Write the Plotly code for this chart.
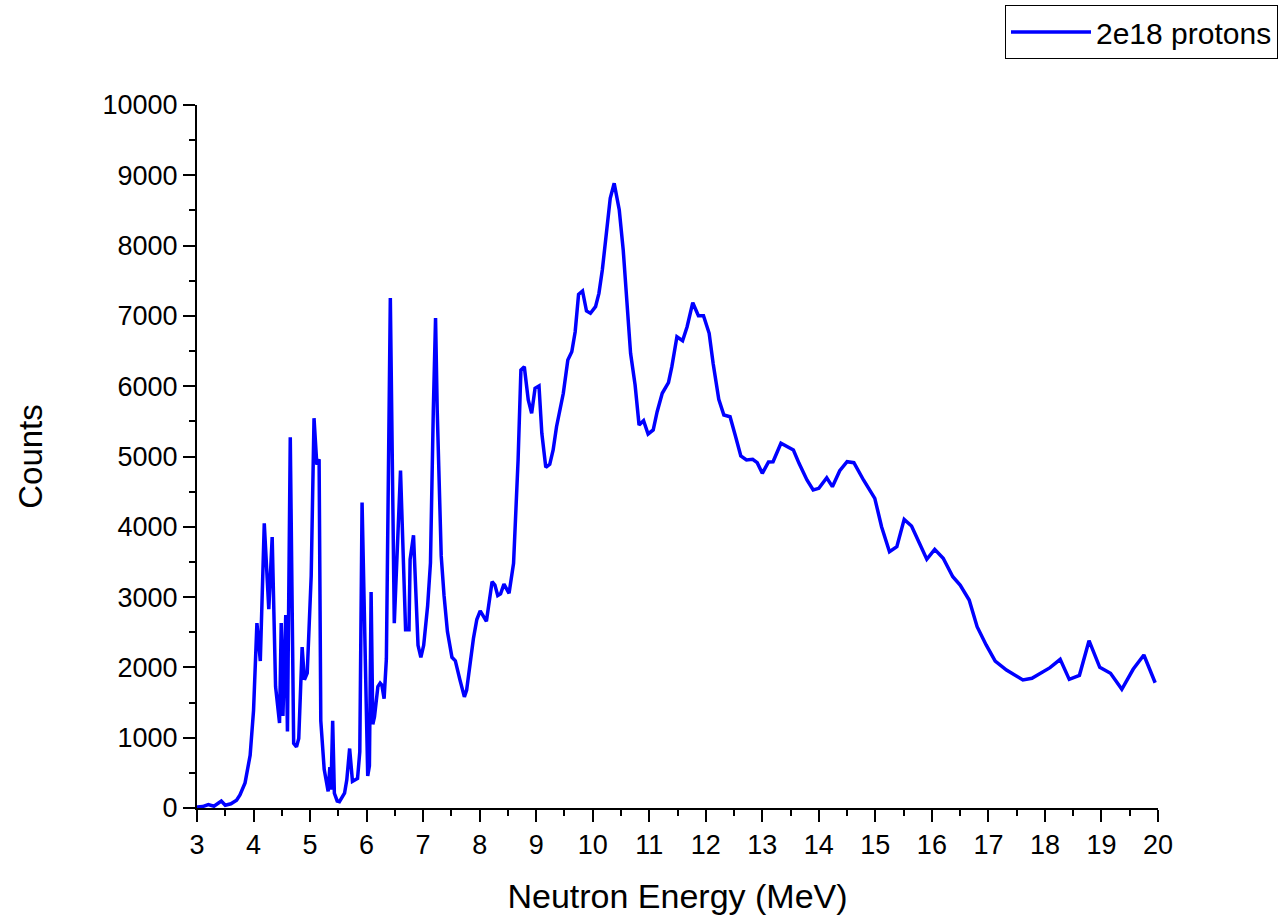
import plotly.graph_objects as go

energy_mev = [
    3.0, 3.1, 3.2, 3.3, 3.43, 3.5, 3.6, 3.7, 3.76, 3.85, 3.94, 4.0, 4.06, 4.12, 4.19,
    4.27, 4.33, 4.39, 4.46, 4.49, 4.52, 4.57, 4.6, 4.65, 4.71, 4.76, 4.8, 4.86, 4.9,
    4.95, 5.02, 5.07, 5.12, 5.16, 5.19, 5.25, 5.32, 5.35, 5.37, 5.4, 5.43, 5.48, 5.52,
    5.61, 5.65, 5.7, 5.75, 5.84, 5.88, 5.92, 6.02, 6.05, 6.08, 6.11, 6.14, 6.2, 6.24,
    6.27, 6.31, 6.35, 6.42, 6.49, 6.6, 6.69, 6.75, 6.77, 6.83, 6.91, 6.96, 7.01, 7.08,
    7.13, 7.18, 7.22, 7.25, 7.32, 7.37, 7.43, 7.51, 7.57, 7.65, 7.73, 7.77, 7.83, 7.89,
    7.95, 8.01, 8.12, 8.22, 8.27, 8.32, 8.37, 8.43, 8.52, 8.6, 8.68, 8.73, 8.79, 8.86,
    8.92, 8.98, 9.05, 9.1, 9.17, 9.24, 9.3, 9.36, 9.48, 9.56, 9.63, 9.69, 9.75, 9.82,
    9.89, 9.96, 10.05, 10.11, 10.17, 10.23, 10.31, 10.38, 10.47, 10.54, 10.6, 10.67,
    10.75, 10.82, 10.9, 10.98, 11.07, 11.14, 11.23, 11.34, 11.4, 11.49, 11.59, 11.67,
    11.77, 11.87, 11.96, 12.06, 12.13, 12.23, 12.32, 12.43, 12.52, 12.62, 12.72, 12.83,
    12.91, 13.0, 13.11, 13.19, 13.33, 13.43, 13.55, 13.65, 13.79, 13.9, 14.0, 14.14,
    14.24, 14.37, 14.5, 14.62, 14.79, 14.99, 15.11, 15.25, 15.38, 15.51, 15.64, 15.78,
    15.91, 16.05, 16.2, 16.37, 16.5, 16.66, 16.8, 16.96, 17.12, 17.32, 17.61, 17.77,
    17.91, 18.09, 18.27, 18.43, 18.61, 18.78, 18.97, 19.16, 19.36, 19.56, 19.75, 19.95,
]

counts = [
    15, 20, 50, 25, 100, 40, 60, 110, 185, 357, 750, 1385, 2630, 2090, 4050,
    2830, 3855, 1725, 1210, 2630, 1310, 2745, 1090, 5275, 920, 870, 990, 2290, 1825,
    1920, 3300, 5545, 4885, 4960, 1240, 550, 235, 580, 260, 1240, 210, 100, 90,
    210, 400, 846, 380, 420, 800, 4344, 455, 600, 3072, 1190, 1300, 1727, 1776,
    1750, 1556, 2120, 7255, 2630, 4800, 2535, 2535, 3537, 3880, 2314, 2143, 2314, 2877,
    3488, 5640, 6971, 5640, 3586, 3023, 2510, 2143, 2094, 1825, 1580, 1678, 2070, 2412,
    2681, 2803, 2656, 3219, 3170, 3023, 3048, 3185, 3054, 3480, 4950, 6230, 6277, 5804,
    5614, 5970, 6003, 5330, 4846, 4889, 5092, 5424, 5899, 6373, 6491, 6775, 7306, 7354,
    7070, 7037, 7131, 7321, 7653, 8127, 8672, 8886, 8506, 7937, 7226, 6468,
    6017, 5448, 5510, 5320, 5377, 5637, 5899, 6050, 6278, 6704, 6647, 6846,
    7188, 7003, 7003, 6752, 6325, 5814, 5590, 5566, 5306, 5007, 4950, 4960,
    4912, 4760, 4922, 4926, 5188, 5150, 5092, 4903, 4666, 4523, 4547, 4698,
    4571, 4798, 4926, 4912, 4666, 4405, 4001, 3646, 3717, 4106, 4011, 3765,
    3538, 3680, 3552, 3290, 3172, 2959, 2579, 2319, 2091, 1963, 1821, 1845,
    1916, 1996, 2115, 1830, 1887, 2380, 2001, 1916, 1688, 1973, 2176, 1782,
]

series_name = "2e18 protons"
x_title = "Neutron Energy (MeV)"
y_title = "Counts"
x_ticks = list(range(3, 21))
x_ticklabels = [str(v) for v in x_ticks]
y_ticks = list(range(0, 10001, 1000))
y_ticklabels = [str(v) for v in y_ticks]

FONT = "Liberation Sans, Arial, sans-serif"

fig = go.Figure()
fig.add_trace(go.Scatter(
    x=energy_mev, y=counts, mode="lines", name=series_name,
    line=dict(color="#0000FF", width=3.5),
    cliponaxis=False,
))

axis_common = dict(
    showgrid=False, zeroline=False, showline=True, linecolor="black", linewidth=2,
    ticks="outside", ticklen=12, tickwidth=2, tickcolor="black",
    tickfont=dict(family=FONT, size=27, color="black"),
    mirror=False,
)

fig.update_layout(
    width=1280, height=918,
    paper_bgcolor="white", plot_bgcolor="white",
    margin=dict(l=197, r=122, t=105, b=110, autoexpand=False),
    font=dict(family=FONT, color="black"),
    showlegend=True,
    legend=dict(
        x=(1278 - 197) / 961, y=(808 - 5) / 703, xanchor="right", yanchor="top",
        bgcolor="white", bordercolor="black", borderwidth=1,
        font=dict(family=FONT, size=30, color="black"),
        itemwidth=80,
    ),
    xaxis=dict(
        **axis_common,
        range=[3, 20], tickvals=x_ticks, ticktext=x_ticklabels,
        minor=dict(ticks="outside", ticklen=6, tickwidth=2, tickcolor="black", dtick=0.5, showgrid=False),
        title=dict(text=x_title, font=dict(family=FONT, size=34, color="black"), standoff=25),
    ),
    yaxis=dict(
        **axis_common,
        range=[0, 10000], tickvals=y_ticks, ticktext=y_ticklabels,
        minor=dict(ticks="outside", ticklen=6, tickwidth=2, tickcolor="black", dtick=500, showgrid=False),
        title=dict(text=y_title, font=dict(family=FONT, size=33, color="black"), standoff=50),
    ),
)

fig.write_html("out.html")
